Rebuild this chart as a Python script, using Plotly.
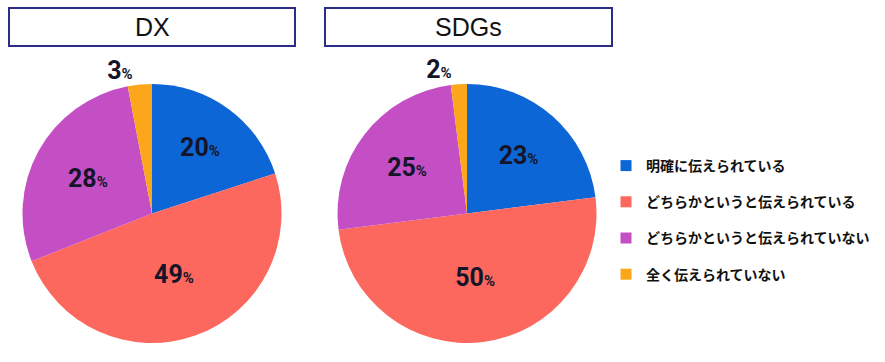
import plotly.graph_objects as go

categories = ["明確に伝えられている", "どちらかというと伝えられている",
              "どちらかというと伝えられていない", "全く伝えられていない"]
dx_values = [20, 49, 28, 3]
sdgs_values = [23, 50, 25, 2]
titles = ["DX", "SDGs"]
colors = ["#0d66d6", "#fc685e", "#c44fc4", "#fba61b"]

W, H = 885, 362
label_font = dict(family="Roboto, sans-serif",
                  size=25, color="#15152a", weight=700)
tmpl = "%{value}<span style='font-size:15px'>%</span>"

fig = go.Figure()

def px_x(a):
    return a / W

def px_y(a):
    return 1 - a / H

domains = [
    dict(x=[px_x(22), px_x(282)], y=[px_y(343), px_y(84)]),
    dict(x=[px_x(337), px_x(597)], y=[px_y(343), px_y(84)]),
]

for vals, dom in zip([dx_values, sdgs_values], domains):
    fig.add_trace(go.Pie(
        labels=categories, values=vals, sort=False, direction="clockwise",
        rotation=0, domain=dom, marker=dict(colors=colors, line=dict(width=0)),
        texttemplate=tmpl, textinfo="value",
        textposition=["inside", "inside", "inside", "outside"],
        insidetextorientation="horizontal",
        textfont=label_font, insidetextfont=label_font, outsidetextfont=label_font,
        showlegend=False, hoverinfo="label+value",
    ))

# legend entries
for i, (c, col) in enumerate(zip(categories, colors)):
    fig.add_trace(go.Scatter(
        x=[None], y=[None], mode="markers", name=c,
        marker=dict(symbol="square", size=11, color=col),
        legendgroup=f"g{i}", showlegend=True,
    ))

shapes = []
annotations = []
for t, (x0, x1) in zip(titles, [(9, 295), (325, 612)]):
    shapes.append(dict(type="rect", xref="paper", yref="paper",
                       x0=px_x(x0), x1=px_x(x1), y0=px_y(46), y1=px_y(8),
                       line=dict(color="#2b2e85", width=2), fillcolor="white"))
    annotations.append(dict(text=t, xref="paper", yref="paper",
                            x=px_x((x0 + x1) / 2), y=px_y(27),
                            showarrow=False, xanchor="center", yanchor="middle",
                            font=dict(family="Liberation Sans, Arial, sans-serif",
                                      size=25, color="#111111")))

fig.update_layout(
    width=W, height=H,
    margin=dict(l=0, r=0, t=0, b=0),
    paper_bgcolor="white", plot_bgcolor="white",
    xaxis=dict(visible=False), yaxis=dict(visible=False),
    shapes=shapes, annotations=annotations,
    legend=dict(x=px_x(606), y=px_y(150), xanchor="left", yanchor="top",
                tracegroupgap=15, itemwidth=30,
                font=dict(family="Noto Sans CJK JP, sans-serif", size=14,
                          color="#111111", weight=700),
                bgcolor="rgba(0,0,0,0)"),
)

fig.write_html("out.html", config={"displayModeBar": False},
               post_script="document.body.style.margin='0';")
